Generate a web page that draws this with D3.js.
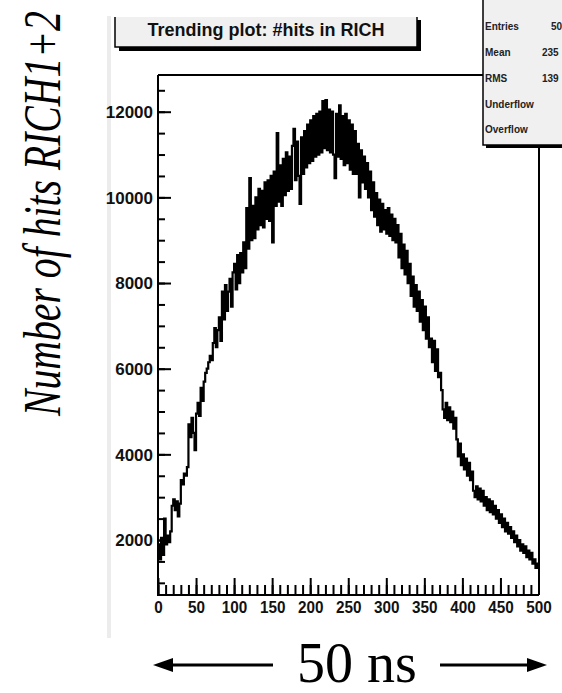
<!DOCTYPE html>
<html><head><meta charset="utf-8">
<script src="https://cdn.jsdelivr.net/npm/d3@7"></script>
<style>body{margin:0;background:#fff}svg{display:block}</style>
</head><body>
<svg id="c" width="562" height="693"></svg>
<script>
const titleText = "Trending plot: #hits in RICH";
const yTitleText = "Number of hits RICH1+2";
const xNoteText = "50 ns";
const statsLabels = ["Entries", "Mean", "RMS", "Underflow", "Overflow"];
const statsValues = ["50", "235", "139", "", ""];
const xMajorTicks = [0, 50, 100, 150, 200, 250, 300, 350, 400, 450, 500];
const xMinorTicks = d3.range(0, 501, 10);
const yMajorTicks = [2000, 4000, 6000, 8000, 10000, 12000];
const yMinorTicks = d3.range(1000, 12501, 500);
const binWidth = 2;
const hits = [
  1900, 1550, 2050, 1650, 2500, 1900, 2100, 1950, 2200, 2800,
  2950, 2700, 2900, 2550, 2850, 3400, 3300, 3550, 3500, 3700,
  4700, 4400, 4850, 4500, 4100, 4950, 5200, 4900, 5550, 5250,
  5700, 5900, 6000, 6150, 6300, 6200, 6600, 6950, 6500, 6900,
  7200, 6650, 7800, 7150, 7950, 7350, 7800, 8100, 7450, 8250,
  8450, 7850, 8650, 8000, 8700, 8250, 8950, 8350, 9750, 8800,
  10450, 9000, 9800, 9050, 10000, 9250, 10200, 9350, 10150, 9300,
  10350, 9500, 10400, 9450, 10500, 8950, 10600, 9800, 11500, 9900,
  10750, 9800, 10900, 10050, 11050, 10150, 10950, 10200, 11200, 11600,
  10400, 11300, 10500, 9850, 11400, 10550, 11550, 10700, 11700, 10800,
  11800, 10850, 11900, 10950, 11950, 11000, 12000, 11050, 12250, 11150,
  12270, 11100, 12050, 11050, 12000, 11000, 10450, 11950, 10950, 12150,
  10900, 11900, 10750, 11950, 10800, 11800, 10650, 11700, 10550, 11550,
  10550, 11250, 10000, 11100, 10350, 10950, 10200, 10800, 10000, 10600,
  9700, 10350, 9550, 10100, 9350, 9950, 9200, 9850, 9250, 9700,
  9150, 9750, 9100, 9600, 9000, 9500, 8950, 9350, 8600, 9150,
  8350, 8900, 8200, 8750, 8000, 8450, 7700, 8150, 7450, 7950,
  7350, 7800, 7100, 7600, 6900, 7450, 6700, 7200, 6500, 6700,
  6150, 6650, 5950, 6450, 5800, 5900, 5500, 5050, 4850, 5200,
  4800, 5100, 4750, 5000, 4600, 4850, 4350, 3950, 4250, 3750,
  4000, 3650, 3900, 3500, 3800, 3400, 3600, 3150, 3000, 3250,
  2950, 3200, 2900, 3150, 2800, 3000, 2700, 2950, 2650, 2900,
  2600, 2800, 2500, 2700, 2400, 2600, 2300, 2500, 2200, 2400,
  2150, 2300, 2050, 2200, 1950, 2100, 1850, 2000, 1750, 1900,
  1700, 1850, 1600, 1750, 1550, 1700, 1450, 1550, 1350, 1450
];

const svg = d3.select("#c");
const sans = "'Liberation Sans', Arial, Helvetica, sans-serif";
const serif = "'Liberation Serif', 'Times New Roman', Times, serif";

const x = d3.scaleLinear().domain([0, 500]).range([158, 538.5]);
const y = d3.scaleLinear().domain([716, 12857]).range([595, 75]);

// canvas edge (light gray)
svg.append("rect").attr("x", 107).attr("y", 16).attr("width", 4).attr("height", 622).attr("fill", "#ececec");

// histogram
const pts = hits.map((v, i) => [i * binWidth, v]);
pts.push([500, hits[hits.length - 1]]);
const line = d3.line().x(d => x(d[0])).y(d => y(d[1])).curve(d3.curveStepAfter);
svg.append("path").attr("d", line(pts)).attr("fill", "none").attr("stroke", "#000")
  .attr("stroke-width", 2.2).attr("stroke-linejoin", "miter");

// frame
svg.append("path")
  .attr("d", `M${x(0)},${y.range()[1]} L483,${y.range()[1]} M539,147 L539,${y.range()[0]} M${x(0)},${y.range()[1]} L${x(0)},${y.range()[0]} L539,${y.range()[0]}`)
  .attr("fill", "none").attr("stroke", "#000").attr("stroke-width", 2);

// y axis
const gyMinor = svg.append("g").attr("transform", `translate(${x(0)},0)`)
  .call(d3.axisLeft(y).tickValues(yMinorTicks).tickSize(-7).tickFormat(""));
gyMinor.select(".domain").remove();
const gy = svg.append("g").attr("transform", `translate(${x(0)},0)`)
  .call(d3.axisLeft(y).tickValues(yMajorTicks).tickSize(-13).tickPadding(5).tickFormat(d3.format("d")));
gy.select(".domain").remove();
gy.selectAll("text").attr("font-family", sans).attr("font-weight", "bold").attr("font-size", 17).attr("fill", "#111").attr("dy", "0.34em");

// x axis
const gxMinor = svg.append("g").attr("transform", `translate(0,${y.range()[0]})`)
  .call(d3.axisBottom(x).tickValues(xMinorTicks).tickSize(-10).tickFormat(""));
gxMinor.select(".domain").remove();
const gx = svg.append("g").attr("transform", `translate(0,${y.range()[0]})`)
  .call(d3.axisBottom(x).tickValues(xMajorTicks).tickSize(-17).tickPadding(6).tickFormat(d3.format("d")));
gx.select(".domain").remove();
gx.selectAll("text").attr("font-family", sans).attr("font-weight", "bold").attr("font-size", 17).attr("fill", "#111")
  .attr("transform", "scale(0.9,1)");
svg.selectAll(".tick line").attr("stroke", "#000").attr("stroke-width", 2);

// title box
svg.append("rect").attr("x", 119).attr("y", 20).attr("width", 302).attr("height", 31).attr("fill", "#000");
svg.append("rect").attr("x", 115).attr("y", 17).attr("width", 302).attr("height", 30).attr("fill", "#f0f0f0");
svg.append("path").attr("d", "M115,17 L115,47 L417,47 L417,17").attr("fill", "none").attr("stroke", "#000").attr("stroke-width", 1.5);
svg.append("text").attr("x", 266).attr("y", 36).attr("text-anchor", "middle")
  .attr("font-family", sans).attr("font-weight", "bold").attr("font-size", 18).attr("fill", "#111").text(titleText);

// stats box
svg.append("rect").attr("x", 486).attr("y", 0).attr("width", 90).attr("height", 148).attr("fill", "#000");
svg.append("rect").attr("x", 483).attr("y", -5).attr("width", 100).attr("height", 150).attr("fill", "#f0f0f0").attr("stroke", "#000").attr("stroke-width", 1.5);
const rowY = [26, 52, 78, 104, 129];
statsLabels.forEach((s, i) => {
  svg.append("text").attr("x", 485).attr("y", rowY[i]).attr("dy", "0.35em")
    .attr("font-family", sans).attr("font-weight", "bold").attr("font-size", 10).attr("fill", "#222").text(s);
  if (statsValues[i]) {
    svg.append("text").attr("x", i === 0 ? 551 : 542).attr("y", rowY[i]).attr("dy", "0.35em")
      .attr("font-family", sans).attr("font-weight", "bold").attr("font-size", 10).attr("fill", "#222").text(statsValues[i]);
  }
});

// y title (compressed along its length to match the reference extent)
const yt = svg.append("text")
  .attr("text-anchor", "middle").attr("font-family", serif).attr("font-style", "italic")
  .attr("font-size", 53).attr("fill", "#000").text(yTitleText);
const natLen = yt.node().getComputedTextLength();
const sx = natLen > 0 ? 405 / natLen : 0.75;
yt.attr("transform", `translate(60,213.5) rotate(-90) scale(${sx},1)`);

// bottom note with arrows
svg.append("text").attr("x", 357).attr("y", 682).attr("text-anchor", "middle")
  .attr("font-family", serif).attr("font-size", 56).attr("fill", "#000").text(xNoteText);
const ay = 665;
svg.append("line").attr("x1", 168).attr("x2", 273).attr("y1", ay).attr("y2", ay).attr("stroke", "#000").attr("stroke-width", 3);
svg.append("path").attr("d", `M153,${ay} L173,${ay - 7} L173,${ay + 7} Z`).attr("fill", "#000");
svg.append("line").attr("x1", 440).attr("x2", 532).attr("y1", ay).attr("y2", ay).attr("stroke", "#000").attr("stroke-width", 3);
svg.append("path").attr("d", `M547,${ay} L527,${ay - 7} L527,${ay + 7} Z`).attr("fill", "#000");
</script>
</body></html>
